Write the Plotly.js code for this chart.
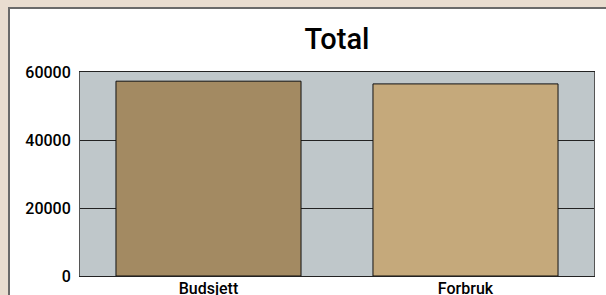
<!DOCTYPE html>
<html><head><meta charset="utf-8">
<script src="https://cdn.plot.ly/plotly-3.0.1.min.js"></script>
<style>
html,body{margin:0;padding:0;background:#e9ddd0;width:606px;height:295px;overflow:hidden;}
#wrap{position:absolute;left:8px;top:7px;width:620px;height:300px;border-left:2px solid #6a6a6a;border-top:2px solid #6a6a6a;background:#fff;}
#chart{width:620px;height:300px;}
</style></head>
<body><div id="wrap"><div id="chart"></div></div>
<script>
const categories = ["Budsjett", "Forbruk"];
const values = [57300, 56500];
const barColors = ["#a38a62", "#c5a97b"];
const yTicks = [0, 20000, 40000, 60000];

Plotly.newPlot("chart", [{
  type: "bar", x: categories, y: values, width: 0.72,
  marker: {color: barColors, line: {color: "#111", width: 1}},
  hoverinfo: "none"
}], {
  width: 620, height: 300,
  margin: {l: 70, r: 36, t: 63, b: 33},
  paper_bgcolor: "#ffffff", plot_bgcolor: "#bfc7ca",
  font: {family: "Roboto, sans-serif", color: "#000"},
  title: {text: "Total", font: {size: 29, weight: 500, color: "#000"}, x: 0.5, xanchor: "center", y: 0.9, yanchor: "middle", xref: "paper"},
  showlegend: false,
  xaxis: {range: [-0.5, 1.5], showgrid: false, showline: true, linecolor: "#222", linewidth: 1, mirror: true,
          tickfont: {size: 16, weight: 500}, ticks: "", ticklen: 0, ticklabelstandoff: -2},
  yaxis: {range: [0, 60000], tickvals: yTicks, ticktext: yTicks.map(String), showgrid: true, gridcolor: "#222", gridwidth: 1,
          showline: true, linecolor: "#555", linewidth: 1, mirror: true, zeroline: false,
          tickfont: {size: 16, weight: 500}, ticks: "", ticklen: 0, ticklabelstandoff: 5}
}, {displayModeBar: false, staticPlot: true});
</script></body></html>
